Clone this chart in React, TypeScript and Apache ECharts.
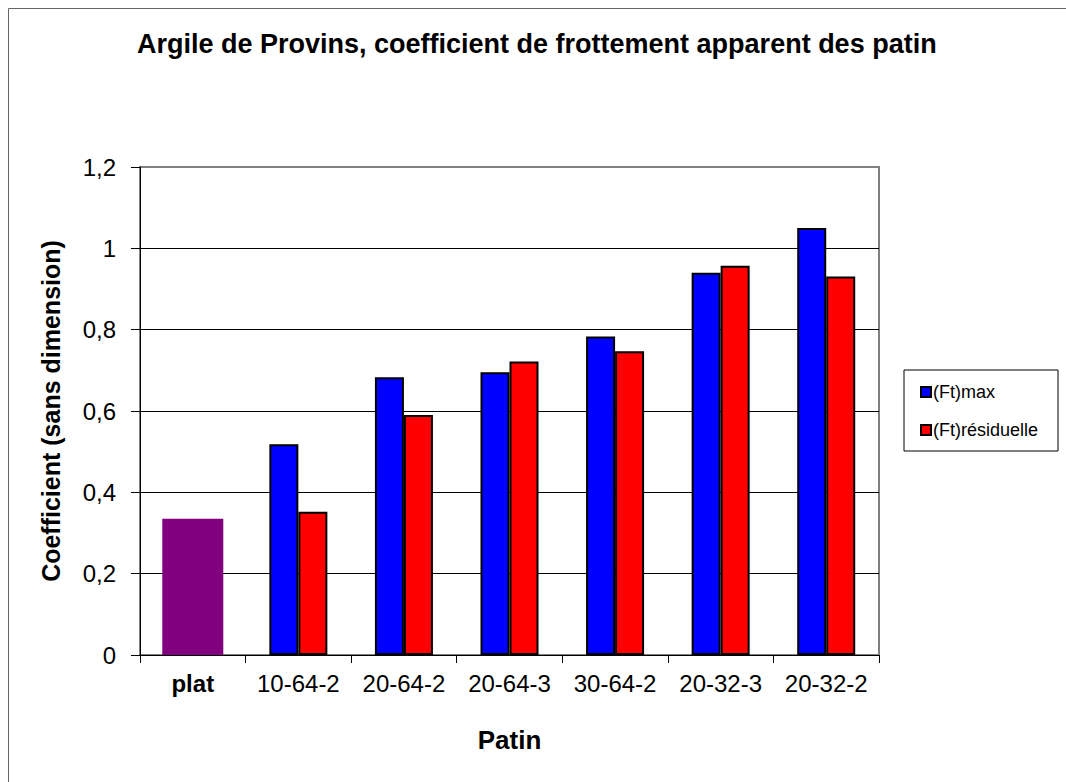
import React, { useEffect, useRef } from "react";
import * as echarts from "echarts";

const categories = ["plat", "10-64-2", "20-64-2", "20-64-3", "30-64-2", "20-32-3", "20-32-2"];
const platValues = [0.335, null, null, null, null, null, null];
const ftMax = [null, 0.518, 0.683, 0.695, 0.783, 0.94, 1.05];
const ftResiduelle = [null, 0.352, 0.59, 0.722, 0.747, 0.957, 0.931];
const yTicks = [0, 0.2, 0.4, 0.6, 0.8, 1, 1.2];

const FONT = "'Liberation Sans', Arial, sans-serif";

export default function App() {
  const ref = useRef<HTMLDivElement>(null);
  useEffect(() => {
    if (!ref.current) return;
    const chart = echarts.init(ref.current, null, { renderer: "svg" });
    chart.setOption({
      animation: false,
      backgroundColor: "#ffffff",
      textStyle: { fontFamily: FONT },
      title: {
        text: "Argile de Provins, coefficient de frottement apparent des patin",
        left: 137,
        top: 30,
        padding: 0,
        textStyle: { fontFamily: FONT, fontSize: 27, fontWeight: "bold", color: "#000" },
      },
      graphic: [
        {
          type: "rect",
          shape: { x: 8.5, y: 8.5, width: 1100, height: 800 },
          style: { fill: "none", stroke: "#666", lineWidth: 1 },
          silent: true,
        },
      ],
      legend: {
        orient: "vertical",
        left: 904,
        top: 370,
        data: ["(Ft)max", "(Ft)résiduelle"],
        backgroundColor: "#fff",
        borderColor: "#000",
        borderWidth: 1,
        padding: [13, 20, 12, 16],
        itemWidth: 10,
        itemHeight: 10,
        itemGap: 20,
        textStyle: { fontFamily: FONT, fontSize: 18, color: "#000", padding: [0, 0, 0, -3] },
        icon: "rect",
      },
      grid: {
        left: 140,
        top: 167,
        right: 187,
        bottom: 127,
        show: true,
        borderColor: "#808080",
        borderWidth: 2,
        backgroundColor: "transparent",
      },
      xAxis: [
        {
          type: "category",
          data: categories,
          name: "Patin",
          nameLocation: "middle",
          nameGap: 72,
          nameTextStyle: { fontFamily: FONT, fontSize: 26, fontWeight: "bold", color: "#000" },
          axisLine: { lineStyle: { color: "#000", width: 1 } },
          axisTick: { show: true, interval: 0, length: 8, lineStyle: { color: "#000" } },
          axisLabel: {
            interval: 0,
            hideOverlap: false,
            margin: 16,
            fontFamily: FONT,
            fontSize: 24,
            color: "#000",
            formatter: (v: string) => (v === "plat" ? `{b|${v}}` : v),
            rich: { b: { fontFamily: FONT, fontSize: 24, fontWeight: "bold", color: "#000" } },
          },
        },
        {
          type: "category",
          data: categories,
          show: false,
        },
      ],
      yAxis: {
        type: "value",
        min: yTicks[0],
        max: yTicks[yTicks.length - 1],
        interval: 0.2,
        name: "Coefficient (sans dimension)",
        nameLocation: "middle",
        nameGap: 77,
        nameTextStyle: { fontFamily: FONT, fontSize: 25, fontWeight: "bold", color: "#000" },
        axisLine: { show: true, lineStyle: { color: "#000", width: 1 } },
        axisTick: { show: true, length: 9, lineStyle: { color: "#000" } },
        axisLabel: {
          margin: 24,
          fontFamily: FONT,
          fontSize: 24,
          color: "#000",
          formatter: (v: number) => String(Math.round(v * 10) / 10).replace(".", ","),
        },
        splitLine: {
          show: true,
          lineStyle: {
            color: ["#000", "#000", "#000", "#000", "#000", "#000", "#808080"],
            width: 1,
          },
        },
      },
      series: [
        {
          name: "plat",
          type: "bar",
          xAxisIndex: 1,
          data: platValues,
          barWidth: 61,
          itemStyle: { color: "#800080" },
        },
        {
          name: "(Ft)max",
          type: "bar",
          xAxisIndex: 0,
          data: ftMax,
          barWidth: 29,
          barGap: "0%",
          itemStyle: { color: "#0000ff", borderColor: "#000", borderWidth: 2 },
        },
        {
          name: "(Ft)résiduelle",
          type: "bar",
          xAxisIndex: 0,
          data: ftResiduelle,
          barWidth: 29,
          barGap: "0%",
          itemStyle: { color: "#ff0000", borderColor: "#000", borderWidth: 2 },
        },
      ],
    });
    return () => chart.dispose();
  }, []);
  return (
    <div
      ref={ref}
      style={{ position: "fixed", left: 0, top: 0, width: 1066, height: 782, background: "#fff" }}
    />
  );
}
